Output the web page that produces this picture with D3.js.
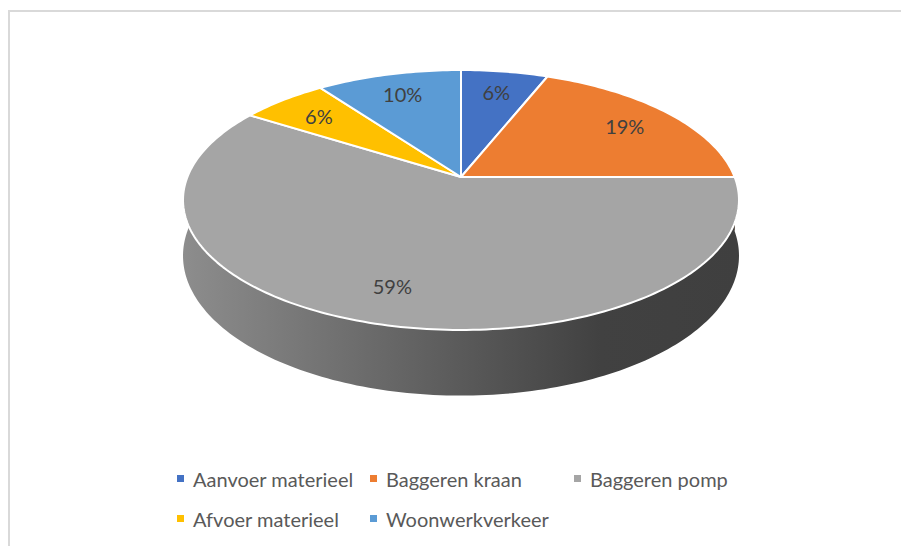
<!DOCTYPE html>
<html>
<head>
<meta charset="utf-8">
<script src="https://cdn.jsdelivr.net/npm/d3@7"></script>
<style>
  body { margin: 0; background: #fff; }
  text { font-family: Lato, "Noto Sans", sans-serif; }
</style>
</head>
<body>
<div id="chart"></div>
<script>
// data
var categories = ['Aanvoer materieel', 'Baggeren kraan', 'Baggeren pomp', 'Afvoer materieel', 'Woonwerkverkeer'];
var values = [6, 19, 59, 6, 10];
var colors = ['#4472c4', '#ed7d31', '#a5a5a5', '#ffc000', '#5b9bd5'];

var width = 901,
    height = 546;

// 3d pie projection settings
var cx = 461, cy = 177,
    rx = 273.6, ry = 125.9,   // scale of the disc
    persp = -0.177,           // perspective factor
    depth = 54;               // thickness of the disc

var svg = d3.select('#chart').append('svg')
  .attr('width', width)
  .attr('height', height);

// chart frame (only top and left visible in the crop)
svg.append('path')
  .attr('d', 'M9,546 V11 H901')
  .attr('fill', 'none')
  .attr('stroke', '#d9d9d9')
  .attr('stroke-width', 2);

// angle 0 = 12 o'clock, clockwise; r in 0..1; h = 0 top face, 1 bottom face
function project(a, r, h) {
  var u = r * Math.sin(a),
      v = -r * Math.cos(a),
      w = 1 + persp * v;
  return [cx + rx * u / w, cy + (ry * v + depth * h) / w];
}

function arcPoints(a0, a1, r, h) {
  var n = Math.max(2, Math.ceil(Math.abs(a1 - a0) / 0.02));
  return d3.range(n + 1).map(function(i) {
    return project(a0 + (a1 - a0) * i / n, r, h);
  });
}

var pie = d3.pie().sort(null).value(function(d) { return d; });
var arcs = pie(values);

var line = d3.line();

// shading for the outer walls, light on the left, dark on the right
var defs = svg.append('defs');
arcs.forEach(function(d, i) {
  var c = d3.color(colors[i]);
  var g = defs.append('linearGradient')
    .attr('id', 'wall' + i)
    .attr('gradientUnits', 'userSpaceOnUse')
    .attr('x1', cx - rx * 1.02).attr('x2', cx + rx * 1.02)
    .attr('y1', 0).attr('y2', 0);
  g.append('stop').attr('offset', '0%').attr('stop-color', c.darker(0.45));
  g.append('stop').attr('offset', '50%').attr('stop-color', c.darker(1.7));
  g.append('stop').attr('offset', '75%').attr('stop-color', c.darker(2.6));
  g.append('stop').attr('offset', '100%').attr('stop-color', c.darker(2.7));
});

// walls first (back ones get hidden by the top)
svg.append('g').selectAll('path')
  .data(arcs)
  .enter()
  .append('path')
  .attr('d', function(d) {
    var top = arcPoints(d.startAngle, d.endAngle, 1, 0);
    var bottom = arcPoints(d.endAngle, d.startAngle, 1, 1);
    return line(top.concat(bottom)) + 'Z';
  })
  .attr('fill', function(d, i) { return 'url(#wall' + i + ')'; });

// top faces
svg.append('g').selectAll('path')
  .data(arcs)
  .enter()
  .append('path')
  .attr('d', function(d) {
    var pts = [project(0, 0, 0)].concat(arcPoints(d.startAngle, d.endAngle, 1, 0));
    return line(pts) + 'Z';
  })
  .attr('fill', function(d, i) { return colors[i]; })
  .attr('stroke', '#fff')
  .attr('stroke-width', 2)
  .attr('stroke-linejoin', 'round');

// percentage labels
svg.append('g').selectAll('text')
  .data(arcs)
  .enter()
  .append('text')
  .attr('x', function(d) { return project((d.startAngle + d.endAngle) / 2, 0.78, 0)[0]; })
  .attr('y', function(d) { return project((d.startAngle + d.endAngle) / 2, 0.78, 0)[1]; })
  .attr('text-anchor', 'middle')
  .attr('dominant-baseline', 'central')
  .attr('font-size', 20)
  .attr('fill', '#404040')
  .text(function(d) { return d.value + '%'; });

// legend, three items per row
var legendCols = [177, 370, 574],
    legendRows = [479, 519];

var legend = svg.append('g').selectAll('g')
  .data(categories)
  .enter()
  .append('g')
  .attr('transform', function(d, i) {
    return 'translate(' + legendCols[i % 3] + ',' + legendRows[Math.floor(i / 3)] + ')';
  });

legend.append('rect')
  .attr('x', 0)
  .attr('y', -4)
  .attr('width', 7)
  .attr('height', 7)
  .attr('fill', function(d, i) { return colors[i]; });

legend.append('text')
  .attr('x', 16)
  .attr('y', 0)
  .attr('dominant-baseline', 'central')
  .attr('font-size', 20)
  .attr('fill', '#595959')
  .text(function(d) { return d; });
</script>
</body>
</html>
